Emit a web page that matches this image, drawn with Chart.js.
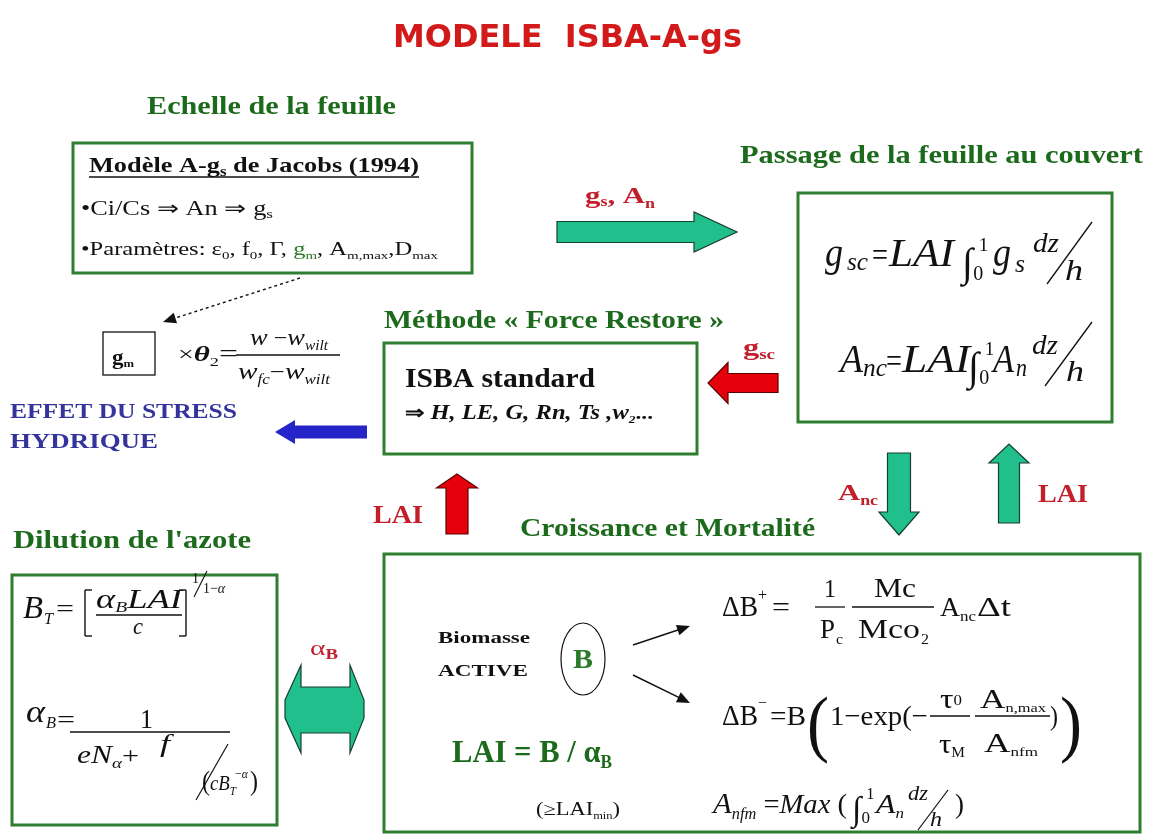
<!DOCTYPE html>
<html><head><meta charset="utf-8">
<script src="https://cdn.jsdelivr.net/npm/chart.js@4.4.1/dist/chart.umd.min.js"></script>
<style>html,body{margin:0;padding:0;background:#fff;overflow:hidden}#wrap{width:1150px;height:834px;position:relative}</style>
</head><body><div id="wrap"><canvas id="c"></canvas></div>
<script>
// ---- content (text of the diagram) ----
const diagramTitle = "MODELE  ISBA-A-gs";
const sectionTitles = ["Echelle de la feuille", "Passage de la feuille au couvert", "Méthode « Force Restore »", "Croissance et Mortalité", "Dilution de l'azote"];
const leafModel = ["Modèle A-g", "s", " de Jacobs (1994)"];
const isbaLines = ["ISBA standard", "H, LE, G, Rn, Ts ,w"];
const stressLines = ["EFFET DU STRESS", "HYDRIQUE"];
const biomassLines = ["Biomasse", "ACTIVE"];
const fluxLabels = ["LAI", "LAI"];

const SERIF = '"Liberation Serif","Times New Roman",Times,serif';
const SANS = '"DejaVu Sans","Liberation Sans",sans-serif';
const C = {green:'#1c6a1c', border:'#2f7d2f', red:'#c21f2b', title:'#d31a1a', teal:'#21bf8c', tealEdge:'#163f30', redA:'#e6000b', redEdge:'#5a0000', blue:'#2424c8', blueText:'#34349c', black:'#111'};

function P(t, s, st, dy, c, f){ return {t, s, st: st||'', dy: dy||0, c: c||null, f: f||SERIF}; }
function fontOf(p){ return `${p.st} ${p.s}px ${p.f}`.trim(); }
function widthOf(ctx, parts){ let w=0; for(const p of parts){ ctx.font=fontOf(p); w+=ctx.measureText(p.t).width; } return w; }
function txt(ctx, x, y, parts, targetW, color){
  const w = widthOf(ctx, parts); const k = targetW ? targetW/w : 1;
  ctx.save(); ctx.translate(x,y); ctx.scale(k,1); ctx.textBaseline='alphabetic'; ctx.textAlign='left';
  let cx=0;
  for(const p of parts){ ctx.font=fontOf(p); ctx.fillStyle = p.c || color || C.black; ctx.fillText(p.t, cx, p.dy); cx += ctx.measureText(p.t).width; }
  ctx.restore();
}
function line(ctx, x1,y1,x2,y2, lw, col){ ctx.save(); ctx.strokeStyle=col||C.black; ctx.lineWidth=lw||1.3; ctx.beginPath(); ctx.moveTo(x1,y1); ctx.lineTo(x2,y2); ctx.stroke(); ctx.restore(); }
function box(ctx, x1,y1,x2,y2, lw, col){ ctx.save(); ctx.strokeStyle=col; ctx.lineWidth=lw; ctx.strokeRect(x1,y1,x2-x1,y2-y1); ctx.restore(); }
function poly(ctx, pts, fill, stroke, lw){ ctx.save(); ctx.beginPath(); pts.forEach((p,i)=> i?ctx.lineTo(p[0],p[1]):ctx.moveTo(p[0],p[1])); ctx.closePath(); ctx.fillStyle=fill; ctx.fill(); if(stroke){ctx.strokeStyle=stroke; ctx.lineWidth=lw||1.2; ctx.stroke();} ctx.restore(); }
function blockArrow(ctx, x1,y1,x2,y2, bh, hh, hl, fill, stroke){
  const dx=x2-x1, dy=y2-y1, L=Math.hypot(dx,dy), ux=dx/L, uy=dy/L, nx=-uy, ny=ux;
  const bx=x2-ux*hl, by=y2-uy*hl;
  poly(ctx, [[x1+nx*bh,y1+ny*bh],[bx+nx*bh,by+ny*bh],[bx+nx*hh,by+ny*hh],[x2,y2],[bx-nx*hh,by-ny*hh],[bx-nx*bh,by-ny*bh],[x1-nx*bh,y1-ny*bh]], fill, stroke, 1.2);
}
function lineArrow(ctx, x1,y1,x2,y2, dash){
  const dx=x2-x1, dy=y2-y1, L=Math.hypot(dx,dy), ux=dx/L, uy=dy/L;
  ctx.save(); ctx.strokeStyle=C.black; ctx.lineWidth=1.4; if(dash) ctx.setLineDash(dash);
  ctx.beginPath(); ctx.moveTo(x1,y1); ctx.lineTo(x2-ux*8,y2-uy*8); ctx.stroke(); ctx.restore();
  const hl=13, hw=5.5, bx=x2-ux*hl, by=y2-uy*hl;
  poly(ctx, [[x2,y2],[bx-uy*hw,by+ux*hw],[bx+uy*hw,by-ux*hw]], C.black);
}
function integral(ctx, x, y, h, sup, sub){
  txt(ctx, x, y, [P('∫', h, '')]);
  txt(ctx, x+h*0.42, y-h*0.62, [P(sup, h*0.48, '')]);
  txt(ctx, x+h*0.28, y+h*0.1, [P(sub, h*0.5, '')]);
}

const diagramPlugin = {
  id: 'diagram',
  afterDraw(chart){
    const ctx = chart.ctx, xs = chart.scales.x, ys = chart.scales.y;
    ctx.save();
    ctx.translate(xs.getPixelForValue(0), ys.getPixelForValue(0));
    ctx.scale((xs.getPixelForValue(1150)-xs.getPixelForValue(0))/1150, (ys.getPixelForValue(834)-ys.getPixelForValue(0))/834);

    // Title
    txt(ctx, 393, 47, [P(diagramTitle, 32, 'bold', 0, null, SANS)], 349, C.title);

    // Section headings
    const hd = (t,x,y,w)=> txt(ctx, x, y, [P(t, 25, 'bold')], w, C.green);
    hd(sectionTitles[0], 147, 114, 249);
    hd(sectionTitles[1], 740, 163, 403);
    hd(sectionTitles[2], 384, 328, 340);
    hd(sectionTitles[3], 520, 536, 295);
    hd(sectionTitles[4], 13, 548, 238);

    // Boxes
    box(ctx, 73,143,472,273, 3, C.border);
    box(ctx, 798,193,1112,422, 3, C.border);
    box(ctx, 384,343,697,454, 3, C.border);
    box(ctx, 12,575,277,825, 3, C.border);
    box(ctx, 384,554,1140,832, 3, C.border);

    // Box 1 text
    txt(ctx, 89, 172, [P(leafModel[0],22,'bold'),P(leafModel[1],14,'bold',4),P(leafModel[2],22,'bold')], 330, C.black);
    line(ctx, 89,177,419,177, 1.6);
    txt(ctx, 81, 215, [P('•Ci/Cs ⇒ An ⇒ g',20,''),P('s',13,'',3)], 192);
    txt(ctx, 81, 255, [P('•Paramètres: ε',18,''),P('0',11,'',4),P(', f',18,''),P('0',11,'',4),P(', Γ, ',18,''),P('g',18,'',0,'#2a7a2a'),P('m',11,'',4,'#2a7a2a'),P(', A',18,''),P('m,max',11,'',4),P(',D',18,''),P('max',11,'',4)], 357);

    // Box 2 formulas
    txt(ctx, 825, 266, [P('g',42,'italic')], 18);
    txt(ctx, 847, 270, [P('sc',26,'italic')], 21);
    txt(ctx, 872, 266, [P('=',34,'')], 16);
    txt(ctx, 889, 266, [P('LAI',40,'italic')], 65);
    integral(ctx, 962, 276, 40, '1', '0');
    txt(ctx, 993, 266, [P('g',42,'italic')], 18);
    txt(ctx, 1015, 272, [P('s',26,'italic')], 10);
    txt(ctx, 1033, 252, [P('dz',28,'italic')], 26);
    line(ctx, 1047,284,1092,222, 1.3);
    txt(ctx, 1065, 280, [P('h',30,'italic')], 18);

    txt(ctx, 840, 372, [P('A',40,'italic')], 23);
    txt(ctx, 863, 376, [P('nc',26,'italic')], 24);
    txt(ctx, 886, 372, [P('=',34,'')], 16);
    txt(ctx, 902, 372, [P('LAI',40,'italic')], 68);
    integral(ctx, 968, 380, 40, '1', '0');
    txt(ctx, 993, 372, [P('A',40,'italic')], 21);
    txt(ctx, 1016, 376, [P('n',26,'italic')], 11);
    txt(ctx, 1032, 354, [P('dz',28,'italic')], 26);
    line(ctx, 1045,386,1092,322, 1.3);
    txt(ctx, 1066, 381, [P('h',30,'italic')], 18);

    // teal right arrow + label
    blockArrow(ctx, 557,232, 737,232, 10.5, 20, 43, C.teal, C.tealEdge);
    txt(ctx, 585, 203, [P('g',24,'bold'),P('s',14,'bold',3),P(', A',24,'bold'),P('n',14,'bold',5)], 70, C.red);

    // dotted arrow to gm box
    lineArrow(ctx, 300,278, 163,322, [3,3]);
    box(ctx, 103,332,155,375, 1.3, C.black);
    txt(ctx, 112, 364, [P('g',20,'bold'),P('m',11,'bold',3)], 22);
    txt(ctx, 178, 361, [P('×',20,''),P('θ',22,'bold italic'),P('2',13,'',5),P('=',24,'')], 60);
    line(ctx, 236,355,340,355, 1.3);
    txt(ctx, 250, 345, [P('w',24,'italic'),P(' −',22,''),P('w',24,'italic'),P('wilt',14,'italic',5)], 78);
    txt(ctx, 238, 379, [P('w',24,'italic'),P('fc',14,'italic',5),P('−',22,''),P('w',24,'italic'),P('wilt',14,'italic',5)], 92);

    // stress text + blue arrow
    txt(ctx, 10, 418, [P(stressLines[0],20,'bold')], 227, C.blueText);
    txt(ctx, 10, 448, [P(stressLines[1],20,'bold')], 148, C.blueText);
    blockArrow(ctx, 367,432, 275,432, 6.5, 12, 20, C.blue, null);

    // ISBA box
    txt(ctx, 405, 387, [P(isbaLines[0],28,'bold')], 190);
    txt(ctx, 405, 419, [P('⇒ ',19,'bold'),P(isbaLines[1],20,'bold italic'),P('2',11,'bold italic',4),P('...',19,'bold')], 248);

    // red arrow left + gsc
    blockArrow(ctx, 778,383, 708,383, 9.5, 20.5, 20, C.redA, C.redEdge);
    txt(ctx, 743, 355, [P('g',24,'bold'),P('sc',14,'bold',4)], 32, C.red);

    // red up arrow + LAI
    blockArrow(ctx, 457,534, 457,474, 11, 20.5, 14, C.redA, C.redEdge);
    txt(ctx, 373, 523, [P(fluxLabels[0],25,'bold')], 50, C.red);

    // teal down / up arrows
    blockArrow(ctx, 899,453, 899,535, 11.5, 20, 23, C.teal, C.tealEdge);
    txt(ctx, 838, 500, [P('A',24,'bold'),P('nc',14,'bold',5)], 40, C.red);
    blockArrow(ctx, 1009,523, 1009,444, 10.5, 20, 19, C.teal, C.tealEdge);
    txt(ctx, 1038, 502, [P(fluxLabels[1],25,'bold')], 50, C.red);

    // double arrow + alphaB
    poly(ctx, [[301,665],[301,687],[350,687],[350,665],[364,700],[364,718],[350,753],[350,733],[301,733],[301,753],[285,718],[285,700]], C.teal, C.tealEdge, 1.2);
    txt(ctx, 310, 655, [P('α',22,''),P('B',14,'bold',4)], 28, C.red);

    // Box 4 formulas
    txt(ctx, 23, 618, [P('B',32,'italic')], 20);
    txt(ctx, 44, 624, [P('T',16,'italic')], 9);
    txt(ctx, 56, 617, [P('=',26,'')], 18);
    line(ctx, 85,590,85,636,1.4); line(ctx,85,590,92,590,1.4); line(ctx,85,636,92,636,1.4);
    line(ctx, 186,590,186,636,1.4); line(ctx,179,590,186,590,1.4); line(ctx,179,636,186,636,1.4);
    txt(ctx, 96, 608, [P('α',28,'italic'),P('B',15,'italic',4),P('LAI',28,'italic')], 86);
    line(ctx, 96,615,182,615,1.3);
    txt(ctx, 133, 634, [P('c',24,'italic')], 10);
    txt(ctx, 192, 583, [P('1',15,'')], 7);
    line(ctx, 194,597,207,571,1.1);
    txt(ctx, 203, 593, [P('1−',15,''),P('α',15,'italic')], 22);

    txt(ctx, 26, 722, [P('α',32,'italic')], 19);
    txt(ctx, 46, 728, [P('B',16,'italic')], 10);
    txt(ctx, 57, 728, [P('=',26,'')], 18);
    line(ctx, 70,732,230,732,1.3);
    txt(ctx, 140, 728, [P('1',28,'')], 13);
    txt(ctx, 77, 763, [P('eN',25,'italic'),P('α',15,'italic',5),P('+',24,'')], 62);
    txt(ctx, 160, 752, [P('f',25,'italic')], 10);
    line(ctx, 196,800,228,744,1.2);
    txt(ctx, 202, 790, [P('(',28,''),P('c',22,'italic'),P('B',22,'italic'),P('T',13,'italic',5)], 34);
    txt(ctx, 234, 778, [P('−α',13,'italic')], 14);
    txt(ctx, 250, 790, [P(')',28,'')], 8);

    // Box 5 content
    txt(ctx, 438, 643, [P(biomassLines[0],17,'bold')], 92);
    txt(ctx, 438, 676, [P(biomassLines[1],17,'bold')], 90);
    ctx.save(); ctx.strokeStyle=C.black; ctx.lineWidth=1.2; ctx.beginPath(); ctx.ellipse(583,659,22,36,0,0,Math.PI*2); ctx.stroke(); ctx.restore();
    txt(ctx, 573, 668, [P('B',27,'bold')], 20, '#2a7a2a');
    lineArrow(ctx, 633,645, 690,626);
    lineArrow(ctx, 633,675, 690,703);

    // dB+
    txt(ctx, 722, 616, [P('ΔB',30,'')], 36);
    txt(ctx, 758, 600, [P('+',16,'')], 9);
    txt(ctx, 772, 616, [P('=',28,'')], 18);
    line(ctx, 815,607,845,607,1.3);
    txt(ctx, 824, 597, [P('1',26,'')], 12);
    txt(ctx, 820, 638, [P('P',28,'')], 15);
    txt(ctx, 836, 644, [P('c',14,'')], 7);
    line(ctx, 852,607,934,607,1.3);
    txt(ctx, 874, 597, [P('Mc',28,'')], 42);
    txt(ctx, 858, 638, [P('Mco',28,'')], 62);
    txt(ctx, 921, 644, [P('2',15,'')], 8);
    txt(ctx, 940, 616, [P('A',28,'')], 20);
    txt(ctx, 960, 621, [P('nc',14,'')], 16);
    txt(ctx, 977, 616, [P('Δt',28,'')], 34);

    // dB-
    txt(ctx, 722, 725, [P('ΔB',30,'')], 36);
    txt(ctx, 758, 708, [P('−',16,'')], 9);
    txt(ctx, 770, 725, [P('=B',28,'')], 36);
    txt(ctx, 807, 748, [P('(',74,'')], 22);
    txt(ctx, 830, 725, [P('1−exp(−',28,'')], 98);
    line(ctx, 930,716,970,716,1.3);
    txt(ctx, 940, 708, [P('τ',28,''),P('0',14,'',-3)], 22);
    txt(ctx, 939, 753, [P('τ',28,''),P('M',14,'',4)], 26);
    line(ctx, 975,716,1050,716,1.3);
    txt(ctx, 980, 708, [P('A',28,''),P('n,max',13,'',4)], 66);
    txt(ctx, 984, 752, [P('A',28,''),P('nfm',13,'',4)], 54);
    txt(ctx, 1050, 725, [P(')',28,'')], 8);
    txt(ctx, 1060, 748, [P(')',74,'')], 22);

    // LAI = B / alphaB
    txt(ctx, 452, 762, [P('LAI = B / α',32,'bold'),P('B',18,'bold',6)], 160, C.green);
    txt(ctx, 536, 815, [P('(≥LAI',18,''),P('min',10,'',4),P(')',18,'')], 84);
    // Anfm
    txt(ctx, 713, 813, [P('A',30,'italic'),P('nfm',16,'italic',6),P(' =',28,''),P('Max',28,'italic'),P(' (',28,'')], 134);
    integral(ctx, 852, 820, 34, '1', '0');
    txt(ctx, 876, 813, [P('A',28,'italic'),P('n',15,'italic',5)], 28);
    txt(ctx, 908, 800, [P('dz',22,'italic')], 20);
    line(ctx, 918,830,948,790,1.2);
    txt(ctx, 930, 826, [P('h',22,'italic')], 12);
    txt(ctx, 955, 813, [P(')',28,'')], 9);

    ctx.restore();
  }
};

new Chart(document.getElementById('c'), {
  type: 'scatter',
  data: { datasets: [{ data: [], pointRadius: 0 }] },
  options: {
    responsive: true, maintainAspectRatio: false, animation: false,
    layout: { padding: 0 },
    plugins: { legend: { display: false }, tooltip: { enabled: false }, title: { display: false } },
    scales: {
      x: { type: 'linear', min: 0, max: 1150, display: false },
      y: { type: 'linear', min: 0, max: 834, reverse: true, display: false }
    }
  },
  plugins: [diagramPlugin]
});
</script>
</body></html>
